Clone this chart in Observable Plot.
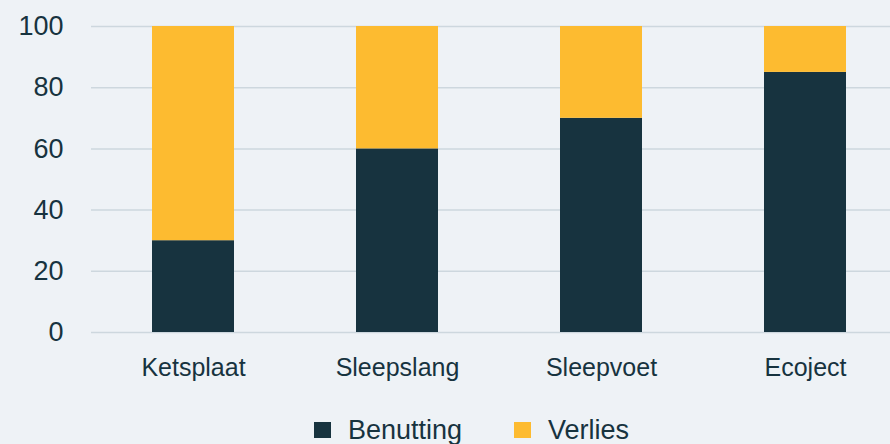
<!DOCTYPE html>
<html><head><meta charset="utf-8">
<script src="https://cdn.jsdelivr.net/npm/d3@7"></script>
<script src="https://cdn.jsdelivr.net/npm/@observablehq/plot@0.6"></script>
<style>
html,body{margin:0;padding:0;background:#eef2f6;}
body{width:890px;height:444px;overflow:hidden;font-family:"Liberation Sans",Arial,sans-serif;color:#17333f;}
#legend{position:relative;height:49px;}
.item{position:absolute;top:20px;display:flex;align-items:center;font-size:27px;line-height:30px;color:#17333f;}
.sw{width:17px;height:16px;margin-right:17px;}
</style></head>
<body>
<div id="chart"></div>
<div id="legend"></div>
<script>
const categories = ["Ketsplaat", "Sleepslang", "Sleepvoet", "Ecoject"];
const series = ["Benutting", "Verlies"];
const benutting = [30, 60, 70, 85];
const verlies = [70, 40, 30, 15];
const colors = ["#17333f", "#fdbb30"];
const yTicks = [0, 20, 40, 60, 80, 100];

const data = [];
categories.forEach((c, i) => {
  data.push({cat: c, series: series[0], value: benutting[i]});
  data.push({cat: c, series: series[1], value: verlies[i]});
});

const chart = Plot.plot({
  width: 890,
  height: 395,
  marginTop: 26,
  marginBottom: 63,
  marginLeft: 91,
  marginRight: 0,
  style: {background: "#eef2f6", fontFamily: "'Liberation Sans', Arial, sans-serif", color: "#17333f"},
  x: {domain: categories, range: [91, 907], padding: 0.6, paddingOuter: 0.3, label: null},
  y: {domain: [0, 100], range: [332, 26], label: null},
  color: {domain: series, range: colors},
  marks: [
    Plot.ruleY(yTicks, {stroke: "#cdd7de", strokeWidth: 1.5}),
    Plot.barY(data, {x: "cat", y: "value", fill: "series", order: series}),
    Plot.axisY(yTicks, {tickSize: 0, tickPadding: 28, fontSize: 27, label: null}),
    Plot.axisX({tickSize: 0, tickPadding: 26, fontSize: 25, label: null})
  ]
});
document.getElementById("chart").appendChild(chart);

const legend = document.getElementById("legend");
const lefts = [314, 514];
series.forEach((s, i) => {
  const it = document.createElement("div");
  it.className = "item";
  it.style.left = lefts[i] + "px";
  it.innerHTML = `<div class="sw" style="background:${colors[i]}"></div><span>${s}</span>`;
  legend.appendChild(it);
});
</script>
</body></html>
